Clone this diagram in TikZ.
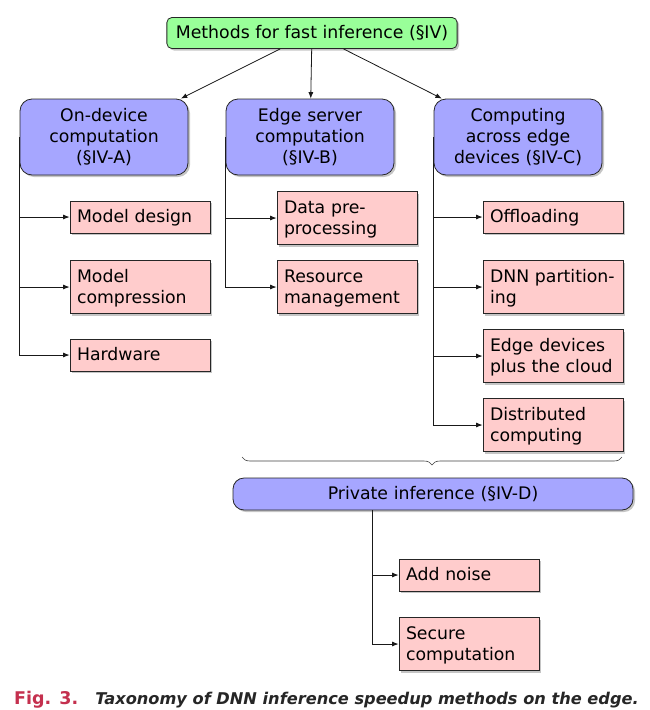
\documentclass[tikz,border=0pt]{standalone}
\usepackage{fontspec}
\setmainfont{DejaVu Sans}
\newfontfamily\capfont{DejaVu Sans}
\usetikzlibrary{shadows,arrows.meta,decorations.pathreplacing,backgrounds}
\definecolor{figred}{RGB}{196,48,78}
\newcommand\boxstrut{\rule[-5pt]{0pt}{21pt}}
\tikzset{
  base/.style={draw=black!85, line width=0.8pt, font=\fontsize{17.3}{21}\selectfont,
    drop shadow={shadow xshift=2pt,shadow yshift=-2pt,fill=black!45},
    execute at begin node=\boxstrut, execute at end node=\boxstrut},
  leaf/.style={base, fill=red!20, text width=126pt, inner xsep=7pt, inner ysep=5.5pt, align=left},
  cat/.style={base, fill=blue!35, rounded corners=12pt, text width=154pt, inner xsep=7pt, inner ysep=6.5pt, align=center},
  topbox/.style={base, fill=green!40, rounded corners=5pt, inner xsep=9pt, inner ysep=5pt},
  privbox/.style={base, fill=blue!35, rounded corners=11pt, text width=386pt, inner xsep=7pt, inner ysep=5.5pt, align=center},
  arr/.style={-{Latex[length=6.5pt,width=5pt]}, line width=0.8pt, draw=black!90},
}
\begin{document}
\begin{tikzpicture}[x=1pt,y=-1pt]
\useasboundingbox (0,0) rectangle (650,710);
\node[topbox] (top) at (312,33) {Methods for fast inference (§IV)};
\node[cat] (on) at (104,137) {On-device\\computation\\(§IV-A)};
\node[cat] (es) at (310,137) {Edge server\\computation\\(§IV-B)};
\node[cat] (ca) at (518,137) {Computing\\across edge\\devices (§IV-C)};
\node[leaf] (md) at (140,217) {Model design};
\node[leaf] (mc) at (140,287) {Model\\compression};
\node[leaf] (hw) at (140,355) {Hardware};
\node[leaf] (dp) at (347,218) {Data pre-\\processing};
\node[leaf] (rm) at (347,287) {Resource\\management};
\node[leaf] (of) at (553,217) {Offloading};
\node[leaf] (dnn) at (553,287) {DNN partition-\\ing};
\node[leaf] (ed) at (553,356) {Edge devices\\plus the cloud};
\node[leaf] (dc) at (553,425) {Distributed\\computing};
\node[privbox] (pi) at (433,494) {Private inference (§IV-D)};
\node[leaf] (an) at (469,575) {Add noise};
\node[leaf] (sc) at (469,644) {Secure\\computation};
\coordinate (bl) at (242,457);
\coordinate (br) at (622,457);
\coordinate (pis) at ([xshift=140pt]pi.south west);
\draw[arr] (top) -- (on);
\draw[arr] (top) -- (es);
\draw[arr] (top) -- (ca);
\begin{scope}[on background layer]
\foreach \p/\c in {on/md,on/mc,on/hw,es/dp,es/rm,ca/of,ca/dnn,ca/ed,ca/dc}
  \draw[arr] (\p.west) |- (\c.west);
\end{scope}
\draw[arr] (pis) |- (an.west);
\draw[arr] (pis) |- (sc.west);
\draw[decorate, decoration={brace, mirror, amplitude=8pt}, line width=0.6pt, draw=black!75] (bl) -- (br);
\node[anchor=base west, inner sep=0pt, font=\capfont\fontsize{16.2}{19}\selectfont] (cap) at (14,704)
  {\textcolor{figred}{\bfseries\fontsize{17.5}{19}\selectfont Fig. 3.}\hspace{17pt}{\bfseries\itshape\color{black!85}Taxonomy of DNN inference speedup methods on the edge.}};
\end{tikzpicture}
\end{document}
